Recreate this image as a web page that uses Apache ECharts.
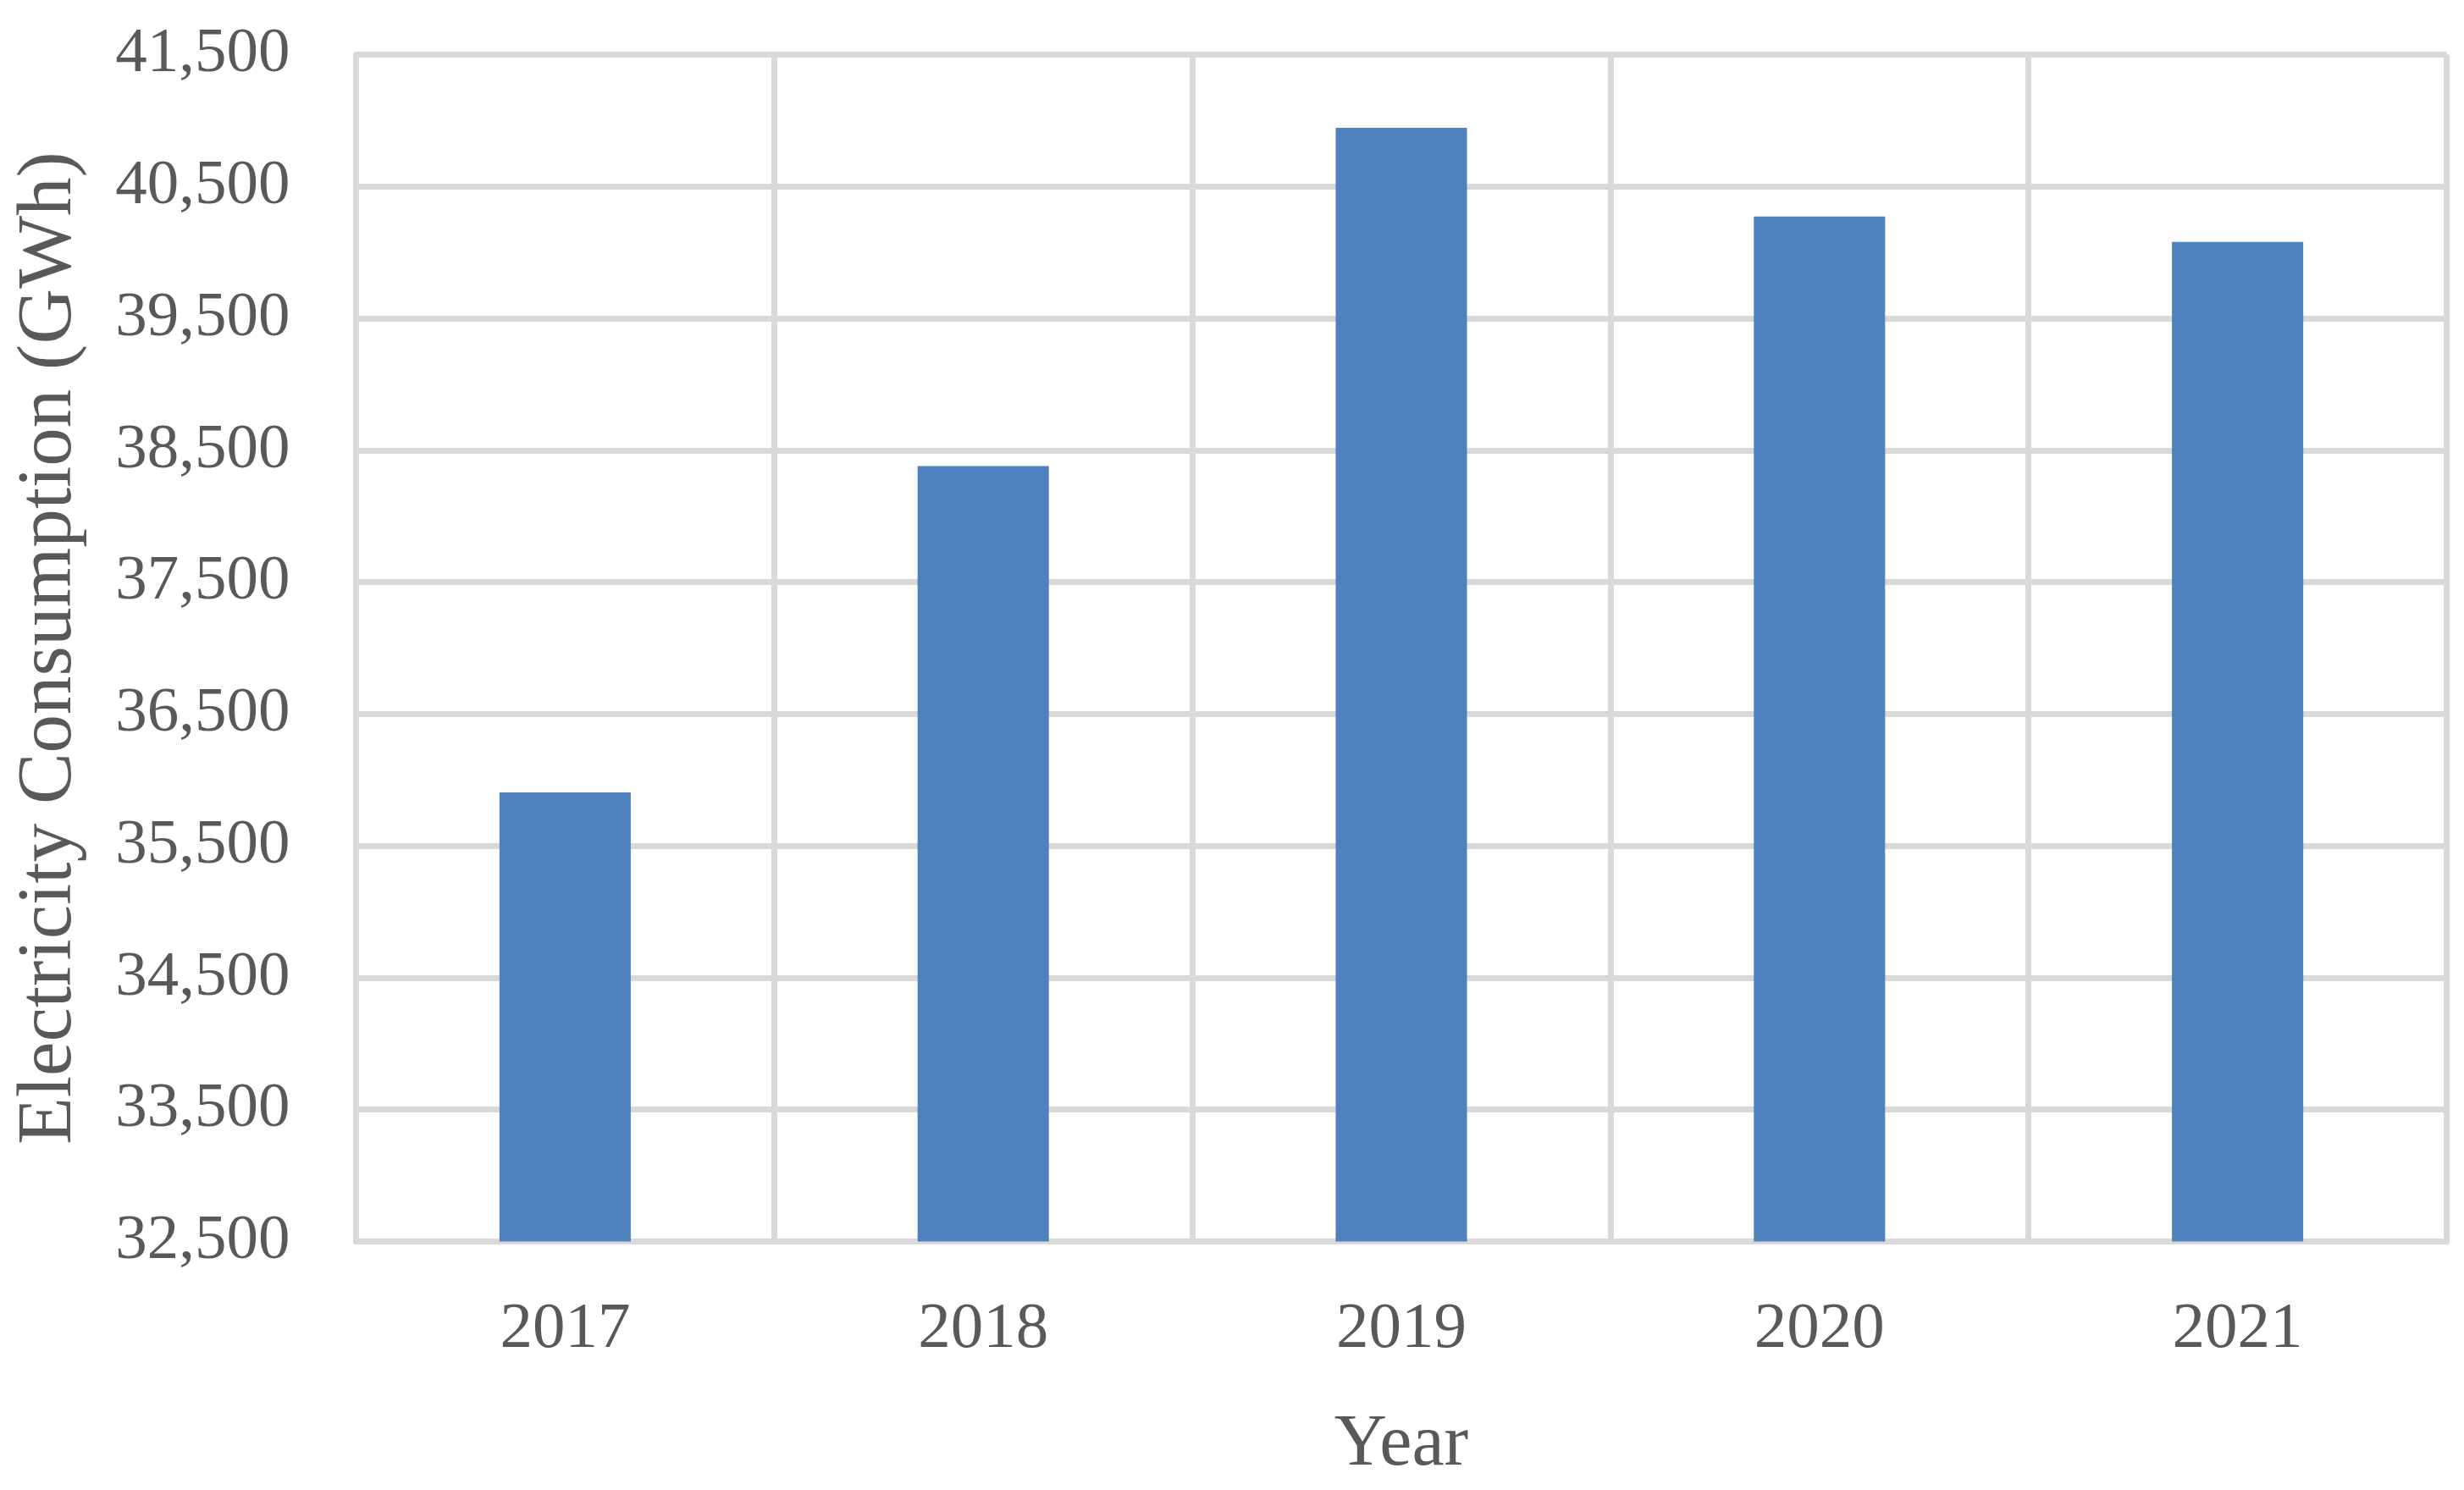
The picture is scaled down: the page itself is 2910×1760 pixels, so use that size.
<!DOCTYPE html>
<html>
<head>
<meta charset="utf-8">
<title>Electricity Consumption</title>
<script src="https://cdn.jsdelivr.net/npm/echarts@6/dist/echarts.min.js"></script>
<style>
  html, body { margin: 0; padding: 0; background: #ffffff; }
  #chart { width: 2910px; height: 1760px; }
</style>
</head>
<body>
<div id="chart"></div>
<script>
// data
var years = ['2017', '2018', '2019', '2020', '2021'];
var consumption = [35905, 38380, 40945, 40272, 40079];
var yMin = 32500;
var yMax = 41500;
var yStep = 1000;

var gridColor = '#d9d9d9';
var textColor = '#595959';
var font = '"Liberation Serif", "Times New Roman", serif';

var chart = echarts.init(document.getElementById('chart'));

var option = {
  animation: false,
  backgroundColor: '#ffffff',
  grid: {
    left: 420.5,
    top: 64.5,
    width: 2469,
    height: 1402,
    containLabel: false
  },
  xAxis: {
    type: 'category',
    data: years,
    boundaryGap: true,
    name: 'Year',
    nameLocation: 'middle',
    nameGap: 198,
    nameTextStyle: {
      color: textColor,
      fontFamily: font,
      fontSize: 86
    },
    axisLine: {
      show: true,
      lineStyle: { color: gridColor, width: 7 }
    },
    axisTick: { show: false },
    axisLabel: {
      color: textColor,
      fontFamily: font,
      fontSize: 77,
      margin: 66
    },
    splitLine: {
      show: true,
      lineStyle: { color: gridColor, width: 7 }
    }
  },
  yAxis: {
    type: 'value',
    min: yMin,
    max: yMax,
    interval: yStep,
    name: 'Electricity Consumption (GWh)',
    nameLocation: 'middle',
    nameRotate: 90,
    nameGap: 316,
    nameTextStyle: {
      color: textColor,
      fontFamily: font,
      fontSize: 91
    },
    axisLine: {
      show: true,
      lineStyle: { color: gridColor, width: 7 }
    },
    axisTick: { show: false },
    axisLabel: {
      color: textColor,
      fontFamily: font,
      fontSize: 75,
      margin: 78,
      formatter: function (v) {
        return v.toLocaleString('en-US');
      }
    },
    splitLine: {
      show: true,
      lineStyle: { color: gridColor, width: 7 }
    }
  },
  series: [{
    type: 'bar',
    data: consumption,
    barWidth: '31.4%',
    itemStyle: { color: '#4f81bd' }
  }]
};

chart.setOption(option);
window.addEventListener('resize', chart.resize);
</script>
</body>
</html>
